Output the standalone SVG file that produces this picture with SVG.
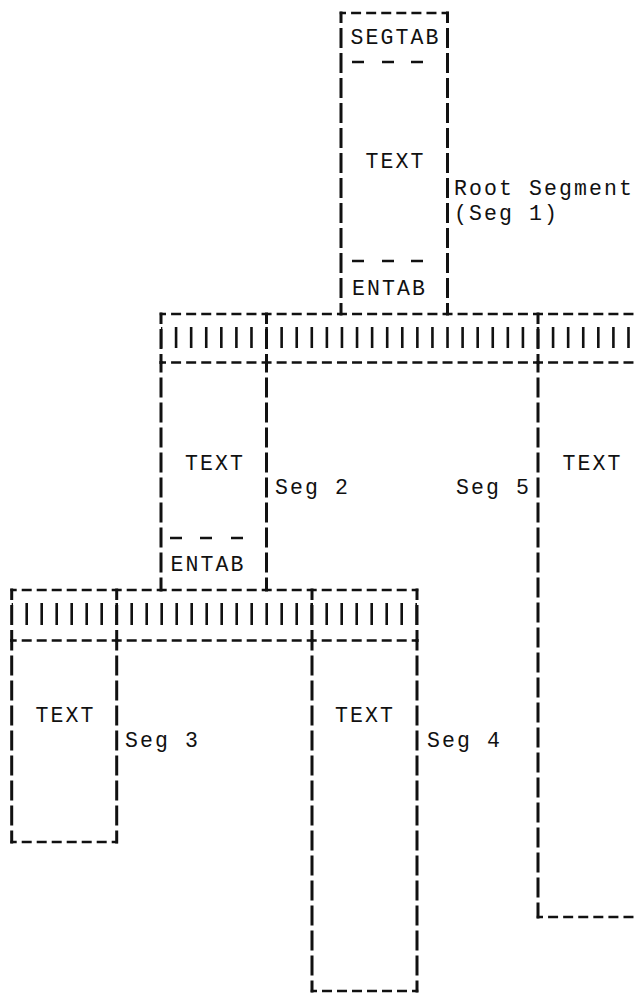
<svg xmlns="http://www.w3.org/2000/svg" width="639" height="993" viewBox="0 0 639 993">
<style>
.h{fill:none;stroke:#111;stroke-width:2.6;stroke-linecap:square;stroke-dasharray:7.4 7.68;stroke-dashoffset:3.7}
.h2{fill:none;stroke:#111;stroke-width:2.6;stroke-linecap:square;stroke-dasharray:7.4 7.6;stroke-dashoffset:3.7}
.v{fill:none;stroke:#111;stroke-width:3;stroke-linecap:square;stroke-dasharray:17 8;stroke-dashoffset:8.5}
.bars{fill:none;stroke:#111;stroke-width:21;stroke-dasharray:2.6 12.48;stroke-dashoffset:1.3}
.bars2{fill:none;stroke:#111;stroke-width:22;stroke-dasharray:2.6 12.4;stroke-dashoffset:1.3}
.d{fill:none;stroke:#111;stroke-width:2.6}
.t{font-family:"Liberation Mono","Courier New",monospace;font-size:21.5px;letter-spacing:2.1px;fill:#111}
.m{text-anchor:middle}
</style>
<rect width="639" height="993" fill="#fff"/>
<g id="connectors">
<path class="h" d="M161 314H639M161 362.5H639"/>
<path class="v" d="M161 314V362.5M266.5 314V362.5M538 314V362.5"/>
<path class="bars" d="M161 337.5H639"/>
<path class="h2" d="M11.7 590H417M11.7 640.5H417"/>
<path class="v" d="M11.7 590V640.5M116.7 590V640.5M312 590V640.5M417 590V640.5"/>
<path class="bars2" d="M11.7 614H417"/>
</g>
<g id="seg1">
<path class="h" d="M341 13H447.5"/>
<path class="v" d="M341 13V314M447.5 13V314"/>
<path class="d" d="M352 62h12M382 62h12M411 62h12M352 261h12M382 261h12M411 261h12"/>
<text class="t m" x="395.5" y="44">SEGTAB</text>
<text class="t m" x="395.5" y="168">TEXT</text>
<text class="t" x="454" y="195">Root Segment</text>
<text class="t" x="454" y="220">(Seg 1)</text>
<text class="t" x="352" y="295">ENTAB</text>
</g>
<g id="seg2">
<path class="v" d="M161 362.5V590M266.5 362.5V590"/>
<path class="d" d="M170 538h12M200 538h12M231 538h12"/>
<text class="t m" x="215" y="470">TEXT</text>
<text class="t" x="275" y="494">Seg 2</text>
<text class="t" x="170.5" y="571">ENTAB</text>
</g>
<g id="seg5">
<path class="v" d="M538 362.5V917"/>
<path class="h" d="M538 917H639"/>
<text class="t m" x="592.5" y="470">TEXT</text>
<text class="t" x="456" y="494">Seg 5</text>
</g>
<g id="seg3">
<path class="v" d="M11.7 640.5V842M116.7 640.5V842"/>
<path class="h2" d="M11.7 842H116.7"/>
<text class="t m" x="65.5" y="722">TEXT</text>
<text class="t" x="125" y="747">Seg 3</text>
</g>
<g id="seg4">
<path class="v" d="M312 640.5V991M417 640.5V991"/>
<path class="h2" d="M312 991H417"/>
<text class="t m" x="365" y="722">TEXT</text>
<text class="t" x="427" y="747">Seg 4</text>
</g>
</svg>
